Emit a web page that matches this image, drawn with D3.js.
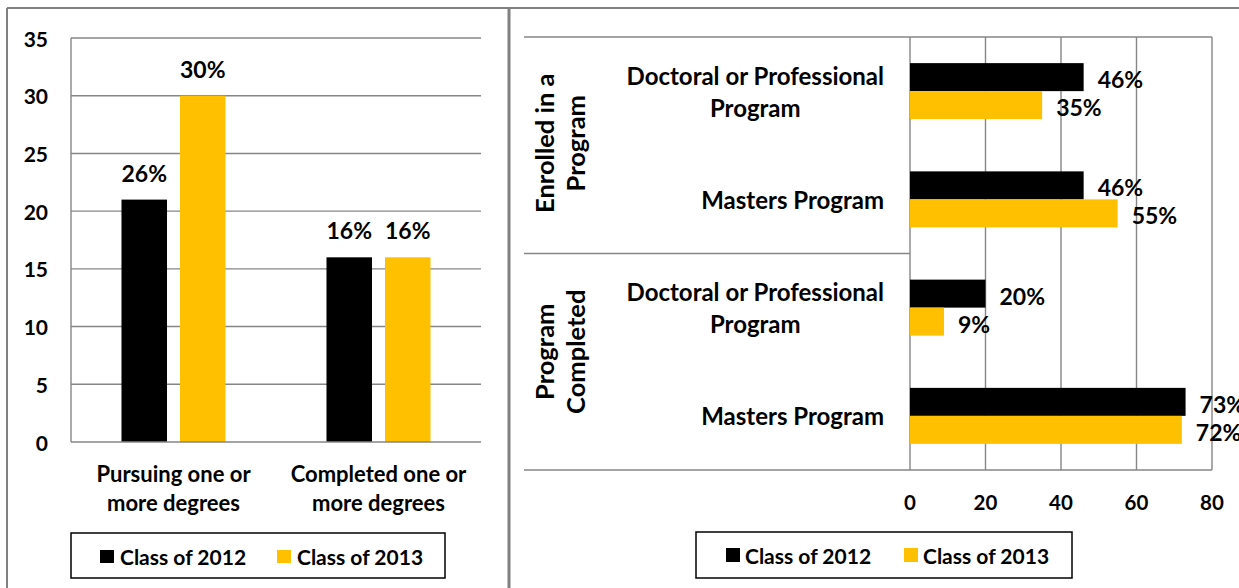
<!DOCTYPE html>
<html><head><meta charset="utf-8">
<script src="https://cdnjs.cloudflare.com/ajax/libs/d3/7.8.5/d3.min.js"></script>
<style>
html,body{margin:0;padding:0;background:#fff;overflow:hidden}
text{font-family:Lato,"Open Sans",sans-serif;font-weight:bold;fill:#000}
</style></head>
<body><svg id="c" width="1239" height="588"></svg>
<script>
// ---- data ----
const leftCategories = [["Pursuing one or","more degrees"],["Completed one or","more degrees"]];
const seriesNames = ["Class of 2012","Class of 2013"];
const seriesColors = ["#000000","#FFC000"];
const left2012 = [21,16];
const left2013 = [30,16];
const leftLabels2012 = ["26%","16%"];
const leftLabels2013 = ["30%","16%"];
const leftTicks = [0,5,10,15,20,25,30,35];

const rightGroups = [["Enrolled in a","Program"],["Program","Completed"]];
const rightCategories = [["Doctoral or Professional","Program"],["Masters Program"],["Doctoral or Professional","Program"],["Masters Program"]];
const right2012 = [46,46,20,73];
const right2013 = [35,55,9,72];
const rightTicks = [0,20,40,60,80];

const svg = d3.select("#c");
const grid = "#868686";
svg.append("rect").attr("width",1239).attr("height",588).attr("fill","#fff");

// frame
svg.append("line").attr("x1",7).attr("x2",1239).attr("y1",8).attr("y2",8).attr("stroke","#808080").attr("stroke-width",2);
svg.append("line").attr("x1",7).attr("x2",7).attr("y1",8).attr("y2",588).attr("stroke","#808080").attr("stroke-width",2);
svg.append("line").attr("x1",509).attr("x2",509).attr("y1",8).attr("y2",588).attr("stroke","#808080").attr("stroke-width",3);

// ---- left chart ----
{
  const g = svg.append("g");
  const y = d3.scaleLinear().domain([0,35]).range([442,38]);
  const x0 = d3.scaleBand().domain(d3.range(leftCategories.length)).range([71,481]);
  const x1 = d3.scaleBand().domain(d3.range(seriesNames.length)).range([0,x0.bandwidth()]).paddingInner(0.222).paddingOuter(0.863);
  g.selectAll(".gl").data(leftTicks.filter(t=>t>0)).join("line")
    .attr("x1",71).attr("x2",481).attr("y1",d=>y(d)).attr("y2",d=>y(d)).attr("stroke",grid).attr("stroke-width",1.4);
  g.append("line").attr("x1",71).attr("x2",71).attr("y1",y(35)).attr("y2",y(0)).attr("stroke",grid).attr("stroke-width",1.4);
  g.selectAll(".tl").data(leftTicks).join("text")
    .attr("x",48).attr("y",d=>y(d)).attr("text-anchor","end").attr("dominant-baseline","central")
    .style("font-size","21px").text(d=>d);
  const vals = [left2012,left2013], labs=[leftLabels2012,leftLabels2013];
  vals.forEach((arr,s)=>{
    g.selectAll(".b"+s).data(arr).join("rect")
      .attr("x",(d,i)=>x0(i)+x1(s)).attr("width",x1.bandwidth())
      .attr("y",d=>y(d)).attr("height",d=>y(0)-y(d)).attr("fill",seriesColors[s]);
    g.selectAll(".l"+s).data(arr).join("text")
      .attr("x",(d,i)=>x0(i)+x1(s)+x1.bandwidth()/2).attr("y",d=>y(d)-27)
      .attr("text-anchor","middle").attr("dominant-baseline","central")
      .style("font-size","23px").text((d,i)=>labs[s][i]);
  });
  g.append("line").attr("x1",71).attr("x2",481).attr("y1",y(0)).attr("y2",y(0)).attr("stroke",grid).attr("stroke-width",1.6);
  leftCategories.forEach((lines,i)=>{
    lines.forEach((t,k)=>{
      g.append("text").attr("x",x0(i)+x0.bandwidth()/2).attr("y",473+k*29)
        .attr("text-anchor","middle").attr("dominant-baseline","central").style("font-size","22px").text(t);
    });
  });
  // legend
  const lg = g.append("g");
  lg.append("rect").attr("x",71).attr("y",533).attr("width",374).attr("height",45).attr("fill","#fff").attr("stroke","#000").attr("stroke-width",1.5);
  const lx=[100,277];
  seriesNames.forEach((n,s)=>{
    lg.append("rect").attr("x",lx[s]).attr("y",550).attr("width",14).attr("height",13).attr("fill",seriesColors[s]);
    lg.append("text").attr("x",lx[s]+20).attr("y",556).attr("dominant-baseline","central").style("font-size","21px").text(n);
  });
}

// ---- right chart ----
{
  const g = svg.append("g");
  const x = d3.scaleLinear().domain([0,80]).range([910,1212]);
  const y0 = d3.scaleBand().domain(d3.range(rightCategories.length)).range([37,470]);
  const y1 = d3.scaleBand().domain(d3.range(seriesNames.length)).range([0,y0.bandwidth()]).paddingInner(0).paddingOuter(0.933);
  g.selectAll(".gv").data(rightTicks).join("line")
    .attr("x1",d=>x(d)).attr("x2",d=>x(d)).attr("y1",37).attr("y2",470).attr("stroke",grid).attr("stroke-width",1.4);
  g.append("line").attr("x1",524).attr("x2",1212).attr("y1",37).attr("y2",37).attr("stroke",grid).attr("stroke-width",1.4);
  g.append("line").attr("x1",524).attr("x2",1212).attr("y1",470).attr("y2",470).attr("stroke",grid).attr("stroke-width",1.4);
  g.append("line").attr("x1",524).attr("x2",910).attr("y1",y0(2)).attr("y2",y0(2)).attr("stroke",grid).attr("stroke-width",1.4);
  g.selectAll(".xt").data(rightTicks).join("text")
    .attr("x",d=>x(d)).attr("y",502).attr("text-anchor","middle").attr("dominant-baseline","central")
    .style("font-size","20.5px").text(d=>d);
  const vals=[right2012,right2013];
  vals.forEach((arr,s)=>{
    g.selectAll(".rb"+s).data(arr).join("rect")
      .attr("x",x(0)).attr("width",d=>x(d)-x(0))
      .attr("y",(d,i)=>y0(i)+y1(s)).attr("height",y1.bandwidth()).attr("fill",seriesColors[s]);
    g.selectAll(".rl"+s).data(arr).join("text")
      .attr("x",d=>x(d)+14).attr("y",(d,i)=>y0(i)+y1(s)+y1.bandwidth()/2+2)
      .attr("dominant-baseline","central").style("font-size","23px").text(d=>d+"%");
  });
  // category labels
  rightCategories.forEach((lines,i)=>{
    const cy = y0(i)+y0.bandwidth()/2;
    const ts = lines.map((t,k)=>g.append("text").attr("y",cy+(k-(lines.length-1)/2)*32)
      .attr("text-anchor","middle").attr("dominant-baseline","central").style("font-size","24px").text(t));
    const w = d3.max(ts,t=>t.node().getComputedTextLength());
    ts.forEach(t=>t.attr("x",884-w/2));
  });
  // group labels
  const gOff=[-2,-10];
  rightGroups.forEach((lines,gi)=>{
    const cy = (y0(gi*2)+y0(gi*2+1)+y0.bandwidth())/2 + gOff[gi];
    lines.forEach((t,k)=>{
      const cx = 544+k*31;
      g.append("text").attr("transform",`translate(${cx},${cy}) rotate(-90)`)
        .attr("text-anchor","middle").attr("dominant-baseline","central").style("font-size","25.5px").text(t);
    });
  });
  // legend
  const lg = g.append("g");
  lg.append("rect").attr("x",696).attr("y",532).attr("width",376).attr("height",46).attr("fill","#fff").attr("stroke","#000").attr("stroke-width",1.5);
  const lx=[726,904];
  seriesNames.forEach((n,s)=>{
    lg.append("rect").attr("x",lx[s]).attr("y",548).attr("width",14).attr("height",14).attr("fill",seriesColors[s]);
    lg.append("text").attr("x",lx[s]+19).attr("y",555).attr("dominant-baseline","central").style("font-size","21px").text(n);
  });
}
</script></body></html>
